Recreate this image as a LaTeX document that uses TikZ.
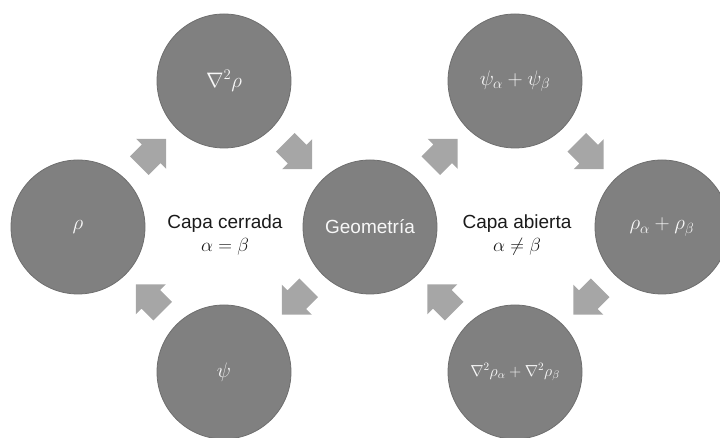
\RequirePackage{fix-cm}
\documentclass[tikz,border=0pt]{standalone}
\usepackage{fontspec}
\setmainfont{Liberation Sans}
\usetikzlibrary{shapes.arrows,calc}
\definecolor{circfill}{HTML}{808080}
\definecolor{circline}{HTML}{6E6E6E}
\definecolor{arrfill}{HTML}{A6A6A6}
\definecolor{circtext}{HTML}{F7F7F7}
\definecolor{captxt}{HTML}{1A1A1A}
\begin{document}
\begin{tikzpicture}[x=1pt,y=1pt,
  bubble/.style={circle,fill=circfill,draw=circline,line width=0.8pt,minimum size=134pt,inner sep=0pt,text=circtext,font=\fontsize{19}{22}\selectfont},
  mathbubble/.style={bubble,font=\fontsize{21}{24}\selectfont},
  blockarrow/.style={single arrow,fill=arrfill,draw=none,minimum height=38pt,single arrow head extend=8pt,single arrow head indent=0pt,inner xsep=0pt,inner ysep=13pt},
  captext/.style={text=captxt,font=\fontsize{19}{22}\selectfont,inner sep=0pt}
]
\useasboundingbox (0,0) rectangle (720,438);
\clip (0,0) rectangle (720,438);
% circles
\node[mathbubble] (rho)   at (78,211)  {$\rho$};
\node[mathbubble] (nab)   at (224,357) {$\nabla^2\rho$};
\node[bubble]     (geo)   at (370,211) {Geometría};
\node[mathbubble] (psi)   at (224,66)  {$\psi$};
\node[mathbubble] (psiab) at (515,357) {$\psi_\alpha+\psi_\beta$};
\node[mathbubble] (rhoab) at (662,211) {$\rho_\alpha+\rho_\beta$};
\node[bubble,font=\fontsize{16}{19}\selectfont] (nabab) at (515,66) {$\nabla^2\rho_\alpha+\nabla^2\rho_\beta$};
% arrows
\node[blockarrow,rotate=45]   (a1) at ($(rho)!0.48!(nab)$) {};
\node[blockarrow,rotate=-45]  (a2) at ($(nab)!0.48!(geo)$) {};
\node[blockarrow,rotate=-135] (a3) at ($(geo)!0.48!(psi)$) {};
\node[blockarrow,rotate=135]  (a4) at ($(psi)!0.48!(rho)$) {};
\node[blockarrow,rotate=45]   (b1) at ($(geo)!0.48!(psiab)$) {};
\node[blockarrow,rotate=-45]  (b2) at ($(psiab)!0.48!(rhoab)$) {};
\node[blockarrow,rotate=-135] (b3) at ($(rhoab)!0.48!(nabab)$) {};
\node[blockarrow,rotate=135]  (b4) at ($(nabab)!0.48!(geo)$) {};
% captions
\node[captext,anchor=base] (c1) at (225,209) {Capa cerrada};
\node[captext,anchor=base] (c2) at (225,186) {$\alpha=\beta$};
\node[captext,anchor=base] (o1) at (517,209) {Capa abierta};
\node[captext,anchor=base] (o2) at (517,186) {$\alpha\neq\beta$};
\end{tikzpicture}
\end{document}
